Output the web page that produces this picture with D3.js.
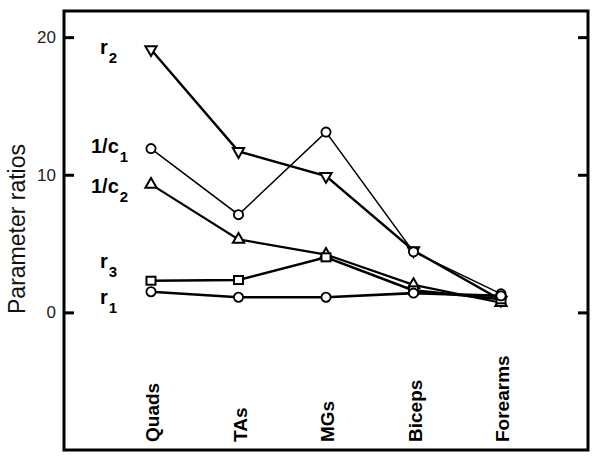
<!DOCTYPE html>
<html>
<head>
<meta charset="utf-8">
<script src="https://cdn.jsdelivr.net/npm/d3@7"></script>
<style>
  body { margin: 0; background: #fff; }
  text { font-family: "Liberation Sans", Arial, sans-serif; fill: #000; }
</style>
</head>
<body>
<div id="chart"></div>
<script>
const muscles = ["Quads", "TAs", "MGs", "Biceps", "Forearms"];
const r2 = [19.1, 11.7, 9.9, 4.5, 0.9];
const invC1 = [11.9, 7.1, 13.1, 4.4, 1.35];
const invC2 = [9.3, 5.3, 4.2, 2.0, 0.7];
const r3 = [2.3, 2.35, 4.0, 1.6, 0.95];
const r1 = [1.5, 1.1, 1.1, 1.4, 1.2];
const yTicks = [0, 10, 20];

const series = [
  {name: "r", sub: "2", values: r2, symbol: "down", width: 2.4},
  {name: "1/c", sub: "1", values: invC1, symbol: "circle", width: 1.5},
  {name: "1/c", sub: "2", values: invC2, symbol: "up", width: 2.2},
  {name: "r", sub: "3", values: r3, symbol: "square", width: 2.6},
  {name: "r", sub: "1", values: r1, symbol: "circle", width: 2.6}
];
// where each series name sits, in y units
const labelAt = [18.8, 11.6, 8.7, 3.25, 0.6];

const W = 603, H = 465;
const margin = {top: 11, right: 15, bottom: 15, left: 64};
const width = W - margin.left - margin.right,
      height = H - margin.top - margin.bottom;

const svg = d3.select("#chart").append("svg")
  .attr("width", W).attr("height", H)
  .append("g")
  .attr("transform", `translate(${margin.left},${margin.top})`);

const x = d3.scalePoint()
  .domain(muscles)
  .range([87, 437]);

const y = d3.scaleLinear()
  .domain([-10, 21.9])
  .range([height, 0]);

// frame
svg.append("rect")
  .attr("width", width).attr("height", height)
  .attr("fill", "none").attr("stroke", "#000").attr("stroke-width", 3);

// left axis, ticks inside
svg.append("g")
  .call(d3.axisLeft(y).tickValues(yTicks).tickSize(-10).tickPadding(8))
  .call(g => g.select(".domain").remove())
  .call(g => g.selectAll("line").attr("stroke-width", 3))
  .call(g => g.selectAll("text").attr("font-size", 17).style("fill", "#222"));

// right ticks
svg.append("g")
  .attr("transform", `translate(${width},0)`)
  .call(d3.axisRight(y).tickValues(yTicks).tickSize(-10).tickFormat(""))
  .call(g => g.select(".domain").remove())
  .call(g => g.selectAll("line").attr("stroke-width", 3));

// category labels, rotated
svg.selectAll(".cat")
  .data(muscles)
  .join("text")
    .attr("class", "cat")
    .attr("transform", d => `translate(${x(d) + 8},${431}) rotate(-90)`)
    .attr("font-size", 19)
    .attr("font-weight", "bold")
    .text(d => d);

// y label
svg.append("text")
  .attr("transform", `translate(${-39},${218}) rotate(-90)`)
  .attr("text-anchor", "middle")
  .attr("font-size", 23)
  .style("fill", "#111")
  .text("Parameter ratios");

const line = d3.line()
  .x((d, i) => x(muscles[i]))
  .y(d => y(d));

series.forEach(s => {
  svg.append("path")
    .datum(s.values)
    .attr("d", line)
    .attr("fill", "none")
    .attr("stroke", "#000")
    .attr("stroke-width", s.width);

  const pts = svg.selectAll(null)
    .data(s.values)
    .join("g")
      .attr("transform", (d, i) => `translate(${x(muscles[i])},${y(d)})`);

  if (s.symbol === "circle") {
    pts.append("circle").attr("r", 4.6)
      .attr("fill", "#fff").attr("stroke", "#000").attr("stroke-width", 1.8);
  } else if (s.symbol === "square") {
    pts.append("rect").attr("x", -4.5).attr("y", -4).attr("width", 9).attr("height", 8)
      .attr("fill", "#fff").attr("stroke", "#000").attr("stroke-width", 2);
  } else {
    pts.append("path")
      .attr("d", d3.symbol(d3.symbolTriangle, 55))
      .attr("transform", s.symbol === "down" ? "rotate(180)" : null)
      .attr("fill", "#fff").attr("stroke", "#000").attr("stroke-width", 2);
  }
});

// series labels
series.forEach((s, i) => {
  const t = svg.append("text")
    .attr("x", s.name === "r" ? 36 : 27)
    .attr("y", y(labelAt[i]))
    .attr("font-size", 20)
    .attr("font-weight", "bold");
  t.append("tspan").text(s.name);
  t.append("tspan").attr("dy", 9).attr("dx", 1).attr("font-size", 15).text(s.sub);
});
</script>
</body>
</html>
